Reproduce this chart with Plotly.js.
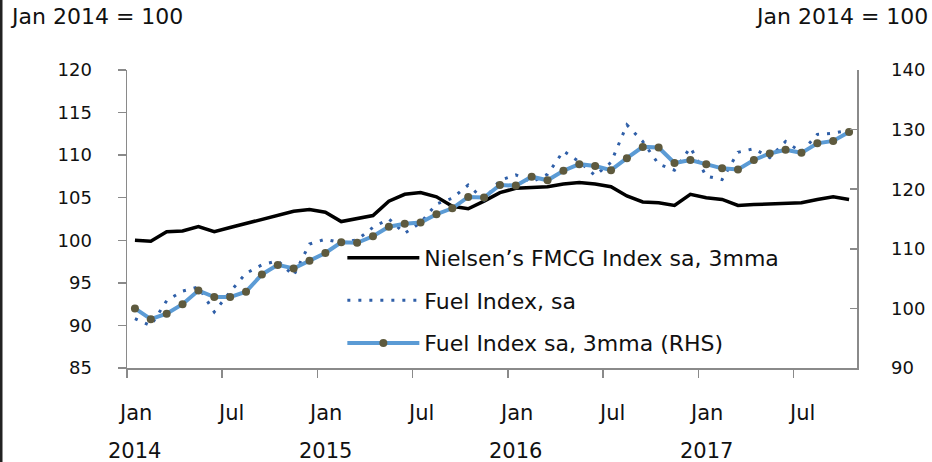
<!DOCTYPE html>
<html><head><meta charset="utf-8">
<script src="https://cdn.plot.ly/plotly-3.0.1.min.js"></script>
<style>html,body{margin:0;padding:0;background:#fff}#chart{width:932px;height:462px}</style>
</head><body><div id="chart"></div>
<script>
const months = ['2014-01','2014-02','2014-03','2014-04','2014-05','2014-06','2014-07','2014-08','2014-09','2014-10','2014-11','2014-12',
'2015-01','2015-02','2015-03','2015-04','2015-05','2015-06','2015-07','2015-08','2015-09','2015-10','2015-11','2015-12',
'2016-01','2016-02','2016-03','2016-04','2016-05','2016-06','2016-07','2016-08','2016-09','2016-10','2016-11','2016-12',
'2017-01','2017-02','2017-03','2017-04','2017-05','2017-06','2017-07','2017-08','2017-09','2017-10'];

const nielsenFMCG = [100.0,99.9,101.0,101.1,101.6,101.0,101.5,102.0,102.5,103.0,103.4,103.6,
103.3,102.2,102.6,102.9,104.6,105.4,105.6,105.1,104.0,103.7,104.6,105.6,
106.1,106.2,106.3,106.6,106.8,106.6,106.3,105.2,104.5,104.4,104.1,105.4,
105.0,104.8,104.1,104.2,104.3,104.4,104.4,104.8,105.1,104.8];

const fuelSa = [98.3,97.1,101.3,102.9,103.6,99.4,102.8,105.9,107.3,108.0,105.5,110.8,
111.6,111.0,111.5,113.6,115.0,112.6,114.4,117.5,118.5,120.7,118.2,121.5,
122.4,121.2,122.5,126.4,124.6,122.3,124.5,130.8,128.0,124.2,123.2,127.0,
122.2,121.6,126.2,126.8,125.3,128.0,126.2,129.2,129.4,129.9];

const fuel3mma = [100.0,98.2,99.1,100.7,103.0,101.9,101.9,102.8,105.7,107.3,106.7,108.0,
109.3,111.1,111.0,112.1,113.7,114.2,114.4,115.8,116.8,118.7,118.6,120.7,
120.6,122.1,121.5,123.1,124.2,123.9,123.2,125.2,127.1,127.0,124.4,124.9,
124.2,123.5,123.3,124.9,126.0,126.6,126.1,127.7,128.1,129.6];

const seriesNames = ['Nielsen\u2019s FMCG Index sa, 3mma','Fuel Index, sa','Fuel Index sa, 3mma (RHS)'];
const monthNames = {'01':'Jan','07':'Jul'};
const unitLabel = 'Jan 2014 = 100';

const idx = months.map((m,i)=>i);
const labelPos = [], labelText = [], yearPos = [], yearText = [];
months.forEach((m,i)=>{
  const mm = m.slice(5), yy = m.slice(0,4);
  if (monthNames[mm]) { labelPos.push(i); labelText.push(monthNames[mm]); }
  if (mm === '01') { yearPos.push(i); yearText.push(yy); }
});
const boundaryPos = labelPos.map(p=>p-0.5);
const xr = [-0.5, months.length-0.5];

const FONT = 'DejaVu Sans, Verdana, sans-serif';
const AX = '#8a8a8a';
const TXT = '#111111';

const traces = [
  {x: idx, y: nielsenFMCG, name: seriesNames[0], mode:'lines', legendgroup:'a',
   line:{color:'#000000', width:3.5}},
  {x: idx, y: fuelSa, name: seriesNames[1], mode:'lines', yaxis:'y2', legendgroup:'b',
   line:{color:'#2f5fa8', width:3, dash:'3px,8px'}},
  {x: idx, y: fuel3mma, name: seriesNames[2], mode:'lines+markers', yaxis:'y2', legendgroup:'c',
   line:{color:'#5b9bd5', width:4}, marker:{color:'#5e5a3e', size:8}}
];

const annotations = [
  {xref:'paper', yref:'paper', x:-0.163, y:1.18, xanchor:'left', yanchor:'middle', showarrow:false,
   text:unitLabel, font:{family:FONT, size:22, color:TXT}},
  {xref:'paper', yref:'paper', x:1.1, y:1.18, xanchor:'right', yanchor:'middle', showarrow:false,
   text:unitLabel, font:{family:FONT, size:22, color:TXT}}
];
labelPos.forEach((p,k)=>annotations.push({xref:'x', yref:'paper', x:p, y:-0.151, xanchor:'center', yanchor:'middle',
  showarrow:false, text:labelText[k], font:{family:FONT, size:21, color:TXT}}));
yearPos.forEach((p,k)=>annotations.push({xref:'x', yref:'paper', x:p, y:-0.277, xanchor:'center', yanchor:'middle',
  showarrow:false, text:yearText[k], font:{family:FONT, size:21, color:TXT}}));

const layout = {
  width:932, height:462,
  margin:{l:127, r:75, t:70, b:94},
  paper_bgcolor:'#ffffff', plot_bgcolor:'#ffffff',
  font:{family:FONT, color:TXT, size:18},
  showlegend:true,
  legend:{x:0.295, y:0.44, xanchor:'left', yanchor:'top', bgcolor:'rgba(0,0,0,0)',
    font:{family:FONT, size:22, color:TXT}, itemwidth:72, tracegroupgap:11},
  xaxis:{range:xr, tickmode:'array', tickvals:boundaryPos, ticktext:boundaryPos.map(()=>''),
    ticks:'outside', ticklen:8, tickwidth:1.5, tickcolor:AX, showline:true, linecolor:AX, linewidth:1.5,
    showgrid:false, zeroline:false, fixedrange:true},
  yaxis:{range:[85,120], tickmode:'linear', tick0:85, dtick:5, ticks:'outside', ticklen:8, tickwidth:1.5, tickcolor:AX,
    showline:true, linecolor:AX, linewidth:1.5, showgrid:false, zeroline:false, ticklabelstandoff:22,
    tickfont:{family:FONT, size:18, color:TXT}},
  yaxis2:{overlaying:'y', side:'right', range:[90,140], tickmode:'linear', tick0:90, dtick:10, ticks:'inside', ticklen:7,
    tickwidth:1.5, tickcolor:AX, showline:true, linecolor:AX, linewidth:1.5, showgrid:false, zeroline:false,
    ticklabelstandoff:29, tickfont:{family:FONT, size:18, color:TXT}},
  annotations: annotations,
  shapes:[
    {type:'line', xref:'paper', yref:'paper', x0:-0.1726, x1:-0.1726, y0:-0.32, y1:1.24,
     line:{color:'#222', width:3}}
  ]
};

Plotly.newPlot('chart', traces, layout, {displayModeBar:false, staticPlot:true});
</script></body></html>
